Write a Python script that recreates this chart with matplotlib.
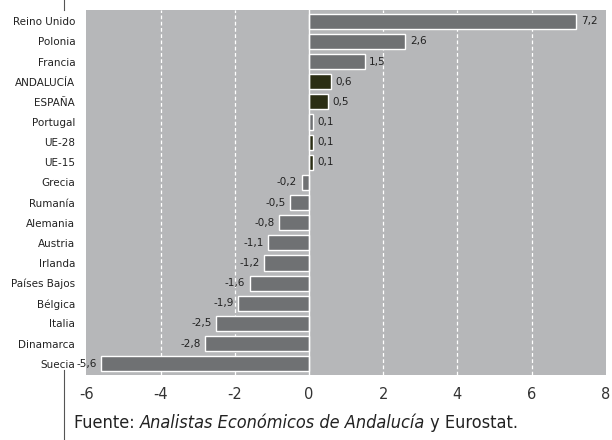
import matplotlib
matplotlib.use("Agg")
import matplotlib.pyplot as plt
from matplotlib.lines import Line2D

categories = ["Reino Unido", "Polonia", "Francia", "ANDALUCÍA", "ESPAÑA", "Portugal",
              "UE-28", "UE-15", "Grecia", "Rumanía", "Alemania", "Austria", "Irlanda",
              "Países Bajos", "Bélgica", "Italia", "Dinamarca", "Suecia"]
values = [7.2, 2.6, 1.5, 0.6, 0.5, 0.1, 0.1, 0.1, -0.2, -0.5, -0.8, -1.1, -1.2,
          -1.6, -1.9, -2.5, -2.8, -5.6]
highlight = ["ANDALUCÍA", "ESPAÑA", "UE-28", "UE-15"]
xticks = [-6, -4, -2, 0, 2, 4, 6, 8]

GREY_BAR = "#6f7173"
DARK_BAR = "#2b2e14"
BG = "#b6b7b9"

fig = plt.figure(figsize=(6.12, 4.4), dpi=100)
ax = fig.add_axes([0.141, 0.148, 0.849, 0.829])
ax.set_facecolor(BG)

y = list(range(len(categories)))
colors = [DARK_BAR if c in highlight else GREY_BAR for c in categories]
ax.barh(y, values, height=0.75, color=colors, edgecolor="white", linewidth=1, zorder=3)

for gx in [-4, -2, 2, 4, 6]:
    ax.axvline(gx, color="white", linestyle=(0, (3, 2)), linewidth=0.9, zorder=1)
ax.axvline(0, color="white", linewidth=1, zorder=4)

for i, v in enumerate(values):
    txt = f"{v:.1f}".replace(".", ",")
    if v >= 0:
        ax.text(v + 0.12, i, txt, va="center", ha="left", fontsize=7.5, color="#222222")
    else:
        ax.text(v - 0.12, i, txt, va="center", ha="right", fontsize=7.5, color="#222222")

ax.set_xlim(-6, 8)
ax.set_ylim(len(categories) - 0.45, -0.55)
ax.set_yticks(y)
ax.set_yticklabels(categories, fontsize=7.5, color="#222222")
ax.set_xticks(xticks)
ax.set_xticklabels([str(t) for t in xticks], fontsize=10.5, color="#333333")
ax.tick_params(length=0)
ax.tick_params(axis="x", pad=9)
ax.tick_params(axis="y", pad=8)
for s in ax.spines.values():
    s.set_visible(False)

# decorative vertical rule
fig.add_artist(Line2D([64 / 612, 64 / 612], [1, 1 - 10 / 440], color="#555555", linewidth=0.8))
fig.add_artist(Line2D([64 / 612, 64 / 612], [1 - 370 / 440, 0], color="#555555", linewidth=0.8))

# source line with mixed styles
fig.canvas.draw()
renderer = fig.canvas.get_renderer()
x0 = 74 / 612
yt = 1 - 428 / 440
parts = [("Fuente: ", "normal"), ("Analistas Económicos de Andalucía", "italic"), (" y Eurostat.", "normal")]
for text, style in parts:
    t = fig.text(x0, yt, text, fontsize=13, style=style, family="DejaVu Sans",
                 stretch="condensed", color="#222222", va="baseline")
    bb = t.get_window_extent(renderer=renderer)
    x0 += bb.width / fig.bbox.width

fig.savefig("out.png", dpi=100)
